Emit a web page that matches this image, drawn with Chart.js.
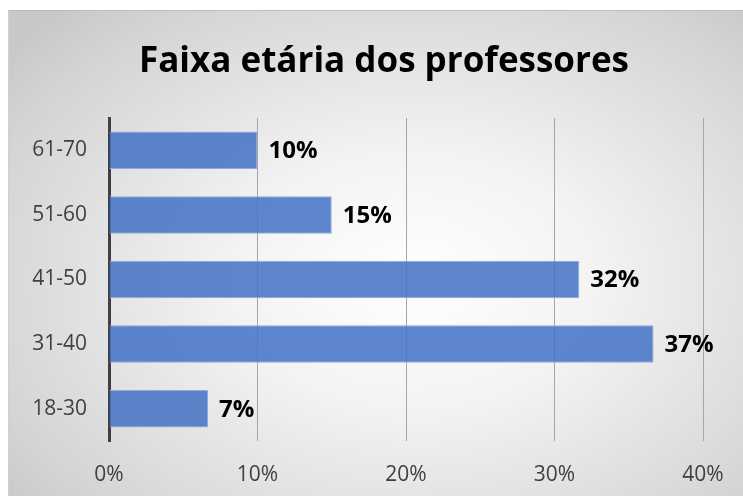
<!DOCTYPE html>
<html>
<head>
<meta charset="utf-8">
<script src="https://cdn.jsdelivr.net/npm/chart.js@4"></script>
<style>
  html, body { margin: 0; padding: 0; background: #fff; overflow: hidden; }
  .box {
    position: absolute; left: 8px; top: 10px; width: 750px; height: 490px;
    border-top: 1px solid #bdbdbd; border-left: 1px solid #d0d0d0;
    background: radial-gradient(ellipse 70% 75% at 54% 55%, #ffffff 0%, #f3f3f3 35%, #d4d4d4 85%, #c8c8c8 100%);
  }
</style>
</head>
<body>
<div class="box"><canvas id="grafico" width="750" height="486"></canvas></div>
<script>
// dados (de cima para baixo)
var titulo = 'Faixa etária dos professores';
var faixas = ['61-70', '51-60', '41-50', '31-40', '18-30'];
var percentuais = [10, 15, 31.67, 36.67, 6.67];
var ticksX = [0, 10, 20, 30, 40];

// título centrado na caixa toda + rótulos de valor ao lado das barras
var rotulos = {
    id: 'rotulos',
    afterDatasetsDraw: function (chart) {
        var ctx = chart.ctx;
        var meta = chart.getDatasetMeta(0);
        ctx.save();
        ctx.fillStyle = '#000';
        ctx.font = 'bold 35px "Open Sans", sans-serif';
        ctx.textAlign = 'center';
        ctx.textBaseline = 'alphabetic';
        ctx.fillText(titulo, chart.width / 2, 61);

        ctx.font = 'bold 24px "Open Sans", sans-serif';
        ctx.textBaseline = 'middle';
        ctx.textAlign = 'left';
        meta.data.forEach(function (bar, i) {
            ctx.fillText(Math.round(percentuais[i]) + '%', bar.x + 11, bar.y + 1);
        });
        ctx.restore();
    }
};

new Chart(document.getElementById('grafico'), {
    type: 'bar',
    data: {
        labels: faixas,
        datasets: [{
            data: percentuais,
            backgroundColor: 'rgba(68,114,196,0.86)',
            borderColor: '#8faadc',
            borderWidth: 1,
            barPercentage: 0.58,
            categoryPercentage: 1
        }]
    },
    options: {
        indexAxis: 'y',
        responsive: false,
        animation: false,
        layout: { padding: { left: 20, right: 56, top: 107, bottom: 0 } },
        scales: {
            x: {
                min: ticksX[0],
                max: ticksX[ticksX.length - 1],
                afterBuildTicks: function (scale) {
                    scale.ticks = ticksX.map(function (v) { return { value: v }; });
                },
                afterFit: function (scale) { scale.height = 56; },
                grid: { color: '#a6a6a6', lineWidth: 1, drawTicks: false },
                border: { display: false },
                ticks: {
                    padding: 21,
                    color: '#404040',
                    font: { family: '"Open Sans", sans-serif', size: 21 },
                    callback: function (v) { return v + '%'; }
                }
            },
            y: {
                afterFit: function (scale) { scale.width = 80; },
                grid: { display: false, drawTicks: false },
                border: { display: true, color: '#404040', width: 3 },
                ticks: {
                    padding: 22,
                    color: '#404040',
                    font: { family: '"Open Sans", sans-serif', size: 21 }
                }
            }
        },
        plugins: {
            legend: { display: false },
            tooltip: { enabled: false },
            title: { display: false }
        }
    },
    plugins: [rotulos]
});
</script>
</body>
</html>
